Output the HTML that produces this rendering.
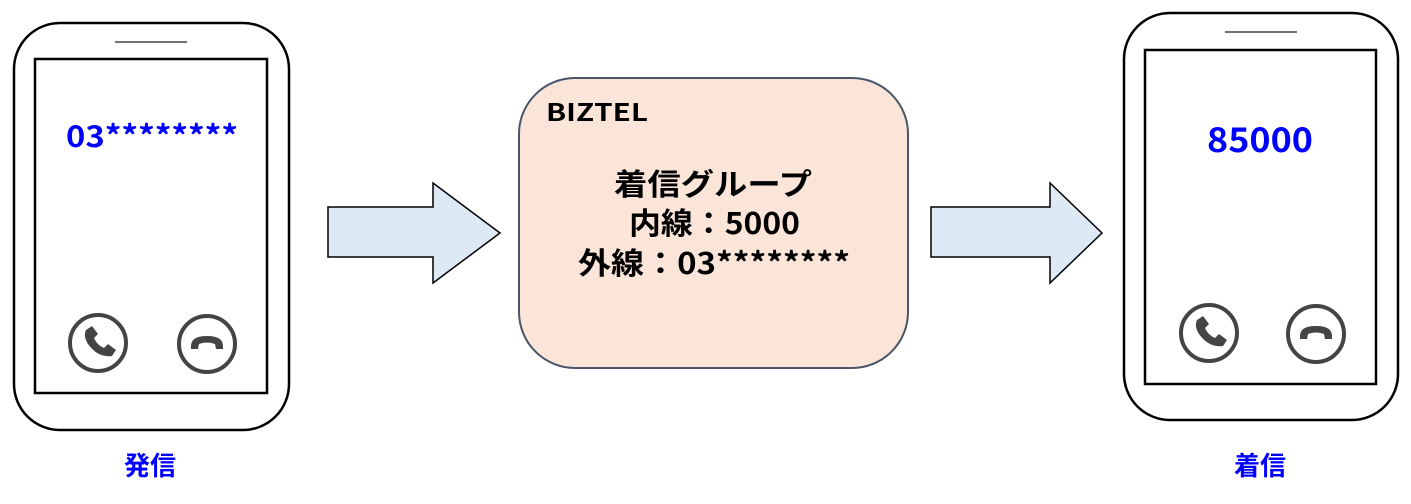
<!DOCTYPE html>
<html><head><meta charset="utf-8"><style>
html,body{margin:0;padding:0;background:#fff;width:1411px;height:504px;overflow:hidden}
svg text{font-family:"Noto Sans CJK JP","Liberation Sans",sans-serif;font-weight:bold}
</style></head><body>
<svg width="1411" height="504" viewBox="0 0 1411 504" xmlns="http://www.w3.org/2000/svg">
<defs>
<g id="call">
<circle cx="0" cy="0" r="28" fill="none" stroke="#444" stroke-width="4"/>
<path d="M-12,-13 l6,-4 l6,8 l-4,4 q3,7 10,10 l4,-4 l8,6 l-4,6 q-14,2 -24,-12 q-5,-8 -2,-14z" fill="#444"/>
</g>
<g id="hang">
<circle cx="0" cy="0" r="28" fill="none" stroke="#444" stroke-width="4"/>
<path d="M-16,2 q0,-10 16,-10 q16,0 16,10 l0,3 l-7,0 l-1,-5 q-8,-3 -16,0 l-1,5 l-7,0z" fill="#444"/>
</g>
</defs>
<rect x="14" y="23" width="275" height="407" rx="46" fill="#fff" stroke="#000" stroke-width="2.5"/>
<line x1="115" y1="42" x2="187" y2="42" stroke="#444" stroke-width="1.5"/>
<rect x="35" y="59" width="232" height="334" fill="none" stroke="#000" stroke-width="2.5"/>
<text x="66" y="147" font-size="30" fill="#0000ff" textLength="172" lengthAdjust="spacingAndGlyphs">03********</text>
<use href="#call" x="98" y="343"/>
<use href="#hang" x="207" y="344"/>
<text x="150" y="475" font-size="26" fill="#0000ff" text-anchor="middle">発信</text>
<path d="M328,207 L433,207 L433,183 L500,233 L433,283 L433,257 L328,257Z" fill="#dde9f5" stroke="#000" stroke-width="1.5"/>
<rect x="519" y="78" width="389" height="290" rx="56" fill="#fae5d8" stroke="#4a5568" stroke-width="2"/>
<text x="546" y="121" font-size="24" fill="#000" textLength="102" lengthAdjust="spacingAndGlyphs">BIZTEL</text>
<text x="614" y="195" font-size="30" fill="#000" textLength="198" lengthAdjust="spacingAndGlyphs">着信グループ</text>
<text x="629" y="234" font-size="30" fill="#000" textLength="171" lengthAdjust="spacingAndGlyphs">内線：5000</text>
<text x="578" y="274" font-size="30" fill="#000" textLength="272" lengthAdjust="spacingAndGlyphs">外線：03********</text>
<path d="M931,207 L1050,207 L1050,183 L1102,233 L1050,283 L1050,257 L931,257Z" fill="#dde9f5" stroke="#000" stroke-width="1.5"/>
<rect x="1124" y="13" width="274" height="407" rx="46" fill="#fff" stroke="#000" stroke-width="2.5"/>
<line x1="1225" y1="32" x2="1297" y2="32" stroke="#444" stroke-width="1.5"/>
<rect x="1145" y="50" width="231" height="334" fill="none" stroke="#000" stroke-width="2.5"/>
<text x="1207" y="152" font-size="34" fill="#0000ff" textLength="106" lengthAdjust="spacingAndGlyphs">85000</text>
<use href="#call" x="1209" y="333"/>
<use href="#hang" x="1316" y="334"/>
<text x="1260" y="475" font-size="26" fill="#0000ff" text-anchor="middle">着信</text>
</svg>
</body></html>
